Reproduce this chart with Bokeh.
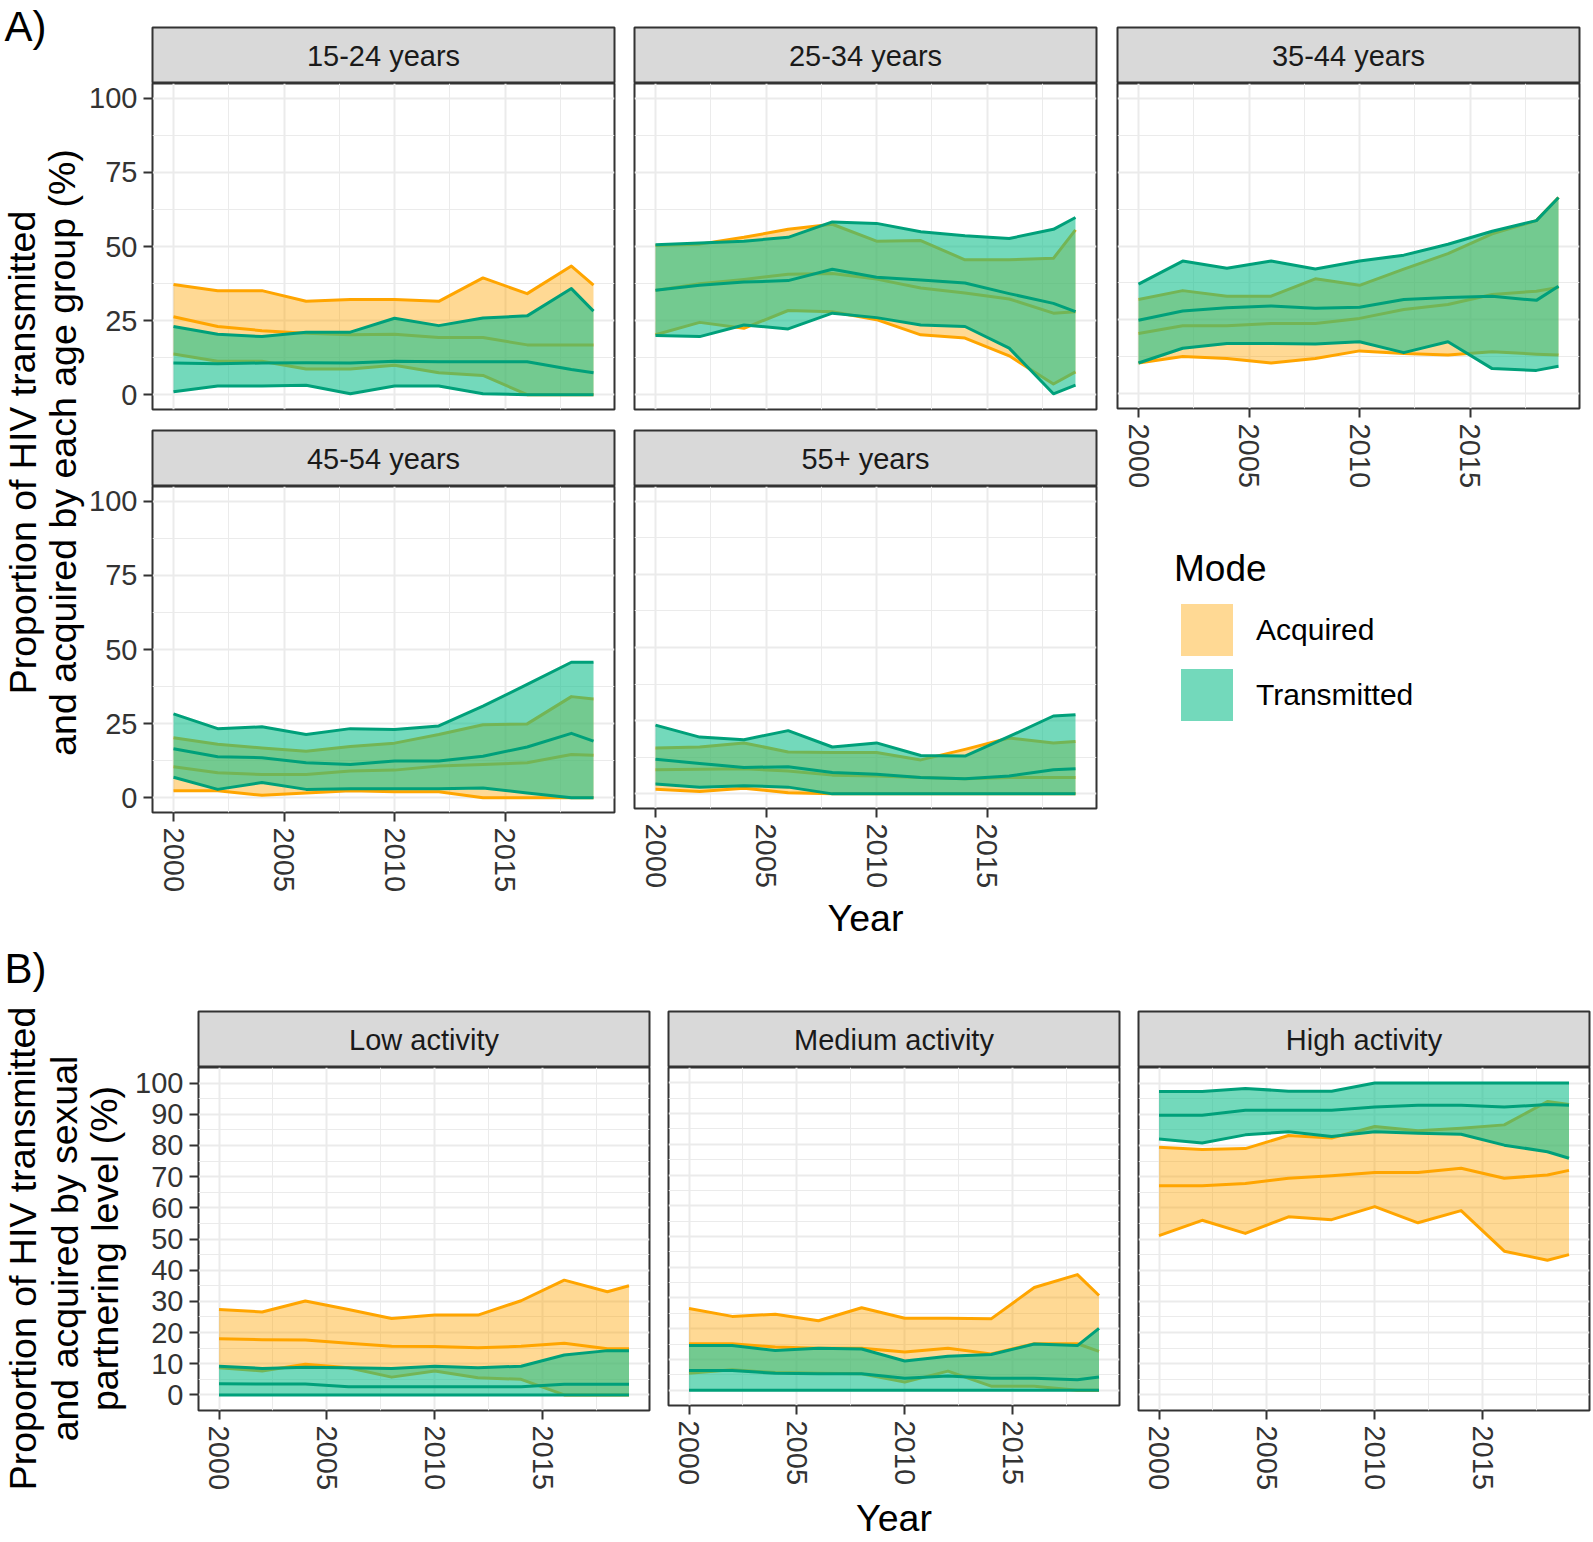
import math
from bokeh.plotting import figure
from bokeh.layouts import row, column
from bokeh.models import (Range1d, FixedTicker, Label, Legend, LegendItem,
                          ColumnDataSource, Grid)
from bokeh.core.properties import value
from bokeh.embed import file_html
from bokeh.resources import INLINE

# ---------------- data ----------------
YEARS = [2000, 2002, 2004, 2006, 2008, 2010, 2012, 2014, 2016, 2018, 2019]

# A) age groups
A1524_ACQ_HI = [37.2, 35.1, 35.1, 31.5, 32.1, 32.1, 31.5, 39.4, 34.1, 43.4, 37.0]
A1524_ACQ_MED = [26.3, 23.0, 21.6, 20.7, 20.2, 20.4, 19.3, 19.3, 16.8, 16.8, 16.8]
A1524_ACQ_LO = [13.7, 11.3, 11.3, 8.7, 8.7, 9.9, 7.4, 6.5, 0.0, 0.0, 0.0]
A1524_TR_HI = [23.0, 20.4, 19.6, 21.1, 21.1, 25.8, 23.3, 25.9, 26.6, 35.8, 28.2]
A1524_TR_MED = [10.7, 10.4, 10.7, 10.8, 10.7, 11.3, 11.1, 11.1, 11.1, 8.5, 7.4]
A1524_TR_LO = [1.0, 2.9, 2.9, 3.2, 0.3, 2.9, 2.9, 0.3, 0.0, 0.0, 0.0]

A2534_ACQ_HI = [50.3, 50.8, 53.1, 55.8, 57.5, 51.8, 52.0, 45.5, 45.5, 46.0, 55.6]
A2534_ACQ_MED = [35.2, 37.4, 38.9, 40.6, 40.9, 39.0, 36.0, 34.3, 32.3, 27.5, 28.0]
A2534_ACQ_LO = [20.2, 24.4, 22.4, 28.4, 28.0, 25.3, 20.2, 19.1, 13.1, 3.6, 7.7]
A2534_TR_HI = [50.6, 51.2, 51.8, 53.1, 58.3, 57.8, 55.0, 53.6, 52.7, 55.8, 59.8]
A2534_TR_MED = [35.2, 36.9, 38.0, 38.5, 42.3, 39.6, 38.7, 37.7, 34.1, 30.8, 28.0]
A2534_TR_LO = [20.0, 19.6, 23.5, 22.2, 27.5, 26.0, 23.5, 23.0, 15.7, 0.3, 3.2]

A3544_ACQ_HI = [31.9, 34.9, 33.0, 33.0, 38.9, 36.7, 42.2, 47.4, 54.1, 58.6, 66.4]
A3544_ACQ_MED = [20.4, 23.0, 23.0, 23.8, 23.8, 25.5, 28.5, 30.2, 33.6, 34.7, 36.0]
A3544_ACQ_LO = [10.4, 12.6, 11.9, 10.4, 11.9, 14.5, 13.6, 13.1, 14.2, 13.4, 13.1]
A3544_TR_HI = [37.1, 44.9, 42.5, 44.9, 42.2, 44.9, 46.9, 50.6, 55.0, 58.6, 66.4]
A3544_TR_MED = [24.9, 28.0, 29.1, 29.7, 28.9, 29.3, 31.9, 32.6, 33.0, 31.6, 36.4]
A3544_TR_LO = [10.4, 15.4, 17.0, 17.0, 16.8, 17.6, 13.9, 17.6, 8.5, 7.9, 9.3]

A4554_ACQ_HI = [20.2, 18.0, 16.8, 15.7, 17.3, 18.4, 21.3, 24.6, 24.9, 34.1, 33.3]
A4554_ACQ_MED = [10.4, 8.4, 7.8, 7.8, 9.0, 9.3, 10.7, 11.2, 11.8, 14.6, 14.3]
A4554_ACQ_LO = [2.3, 2.3, 0.8, 1.6, 2.3, 2.0, 2.0, 0.0, 0.0, 0.0, 0.0]
A4554_TR_HI = [28.3, 23.3, 23.9, 21.3, 23.3, 23.0, 24.2, 30.9, 38.2, 45.7, 45.7]
A4554_TR_MED = [16.5, 13.8, 13.5, 11.8, 11.2, 12.4, 12.4, 14.0, 17.1, 21.7, 19.1]
A4554_TR_LO = [6.9, 2.8, 5.1, 2.8, 3.0, 3.0, 3.0, 3.3, 1.6, 0.0, 0.0]

A55_ACQ_HI = [15.7, 16.0, 17.4, 14.3, 14.1, 14.1, 11.6, 15.2, 19.1, 17.4, 17.9]
A55_ACQ_MED = [8.2, 8.4, 8.6, 7.8, 6.4, 6.1, 5.6, 5.2, 5.6, 5.6, 5.6]
A55_ACQ_LO = [1.6, 0.8, 1.9, 0.4, 0.0, 0.0, 0.0, 0.0, 0.0, 0.0, 0.0]
A55_TR_HI = [23.5, 19.4, 18.5, 21.6, 16.0, 17.4, 13.1, 12.9, 19.6, 26.6, 27.0]
A55_TR_MED = [11.8, 10.4, 9.0, 9.3, 7.3, 6.7, 5.6, 5.2, 6.1, 8.2, 8.6]
A55_TR_LO = [3.4, 2.3, 2.8, 2.3, 0.0, 0.0, 0.0, 0.0, 0.0, 0.0, 0.0]

# B) sexual partnering level
BLOW_ACQ_HI = [27.4, 26.6, 30.1, 27.4, 24.5, 25.6, 25.6, 30.2, 36.8, 33.1, 35.0]
BLOW_ACQ_MED = [18.0, 17.7, 17.6, 16.6, 15.6, 15.5, 15.1, 15.6, 16.6, 14.8, 14.8]
BLOW_ACQ_LO = [8.7, 7.7, 9.8, 8.7, 5.7, 7.7, 5.5, 5.0, 0.0, 0.0, 0.0]
BLOW_TR_HI = [9.2, 8.5, 8.9, 8.7, 8.5, 9.2, 8.7, 9.2, 12.8, 14.2, 14.2]
BLOW_TR_MED = [3.6, 3.5, 3.5, 2.6, 2.6, 2.6, 2.6, 2.6, 3.4, 3.4, 3.4]
BLOW_TR_LO = [0.0, 0.0, 0.0, 0.0, 0.0, 0.0, 0.0, 0.0, 0.0, 0.0, 0.0]

BMED_ACQ_HI = [26.6, 24.0, 24.7, 22.6, 26.8, 23.4, 23.4, 23.2, 33.4, 37.6, 30.8]
BMED_ACQ_MED = [15.1, 15.1, 14.0, 13.6, 13.6, 12.4, 13.6, 11.8, 15.1, 15.1, 12.6]
BMED_ACQ_LO = [5.5, 6.6, 5.7, 5.5, 5.3, 2.6, 6.2, 1.3, 1.3, 0.0, 0.0]
BMED_TR_HI = [14.5, 14.5, 12.9, 13.6, 13.4, 9.5, 11.0, 11.6, 15.0, 14.5, 20.1]
BMED_TR_MED = [6.4, 6.4, 5.5, 5.3, 5.3, 3.9, 4.6, 3.9, 3.9, 3.4, 4.3]
BMED_TR_LO = [0.0, 0.0, 0.0, 0.0, 0.0, 0.0, 0.0, 0.0, 0.0, 0.0, 0.0]

BHIGH_ACQ_HI = [79.4, 78.7, 79.0, 83.2, 82.4, 86.1, 84.7, 85.5, 86.6, 94.1, 93.1]
BHIGH_ACQ_MED = [67.1, 67.1, 67.8, 69.5, 70.3, 71.3, 71.3, 72.7, 69.5, 70.5, 72.0]
BHIGH_ACQ_LO = [51.1, 56.0, 51.8, 57.1, 56.2, 60.4, 55.2, 59.1, 46.1, 43.2, 45.0]
BHIGH_TR_HI = [97.3, 97.3, 98.3, 97.4, 97.4, 100.0, 100.0, 100.0, 100.0, 100.0, 100.0]
BHIGH_TR_MED = [89.7, 89.7, 91.3, 91.3, 91.3, 92.3, 92.9, 92.9, 92.3, 93.1, 92.9]
BHIGH_TR_LO = [82.1, 80.8, 83.4, 84.4, 82.9, 84.4, 83.9, 83.6, 80.1, 78.0, 75.9]

A_STRIPS = ["15-24 years", "25-34 years", "35-44 years", "45-54 years", "55+ years"]
B_STRIPS = ["Low activity", "Medium activity", "High activity"]
MODES = ["Acquired", "Transmitted"]
X_TICKS = [2000, 2005, 2010, 2015]
X_MINOR = [2002.5, 2007.5, 2012.5, 2017.5]
A_Y_TICKS = [0, 25, 50, 75, 100]
A_Y_MINOR = [12.5, 37.5, 62.5, 87.5]
B_Y_TICKS = [0, 10, 20, 30, 40, 50, 60, 70, 80, 90, 100]
B_Y_MINOR = [5, 15, 25, 35, 45, 55, 65, 75, 85, 95]

# ---------------- style ----------------
FONT = "Liberation Sans"
GRID = "#EBEBEB"
DARK = "#333333"
ACQ = "#FFA500"
ACQ_ALPHA = 0.42
TR_FILL = "#16BF8E"
TR_ALPHA = 0.6
TR_LINE = "#00A07A"
LW = 3
TICK_FS = "29px"
STRIP_FS = "29px"
TITLE_FS = "37.5px"
TXT_SHIFT = 13   # empirical offset of the text glyph's baseline


def clear_grids(p):
    p.center = [r for r in p.center if not isinstance(r, Grid)]


def style_axis(ax, standoff):
    ax.major_label_text_font = FONT
    ax.major_label_text_font_size = TICK_FS
    ax.major_label_text_color = DARK
    ax.major_tick_line_color = DARK
    ax.major_tick_line_width = 2
    ax.major_tick_out = 9
    ax.major_tick_in = 0
    ax.minor_tick_line_color = None
    ax.axis_line_color = None
    ax.major_label_standoff = standoff


def make_panel(w, h, bl, br, bt, bb, data, yticks, yminor, show_x, show_y,
               xlabel=None, label_standoff=7):
    p = figure(width=w, height=h, title=None, toolbar_location=None,
               output_backend="svg",
               x_range=Range1d(1999.05, 2019.95), y_range=Range1d(-5, 105),
               x_axis_location="below" if show_x else None,
               y_axis_location="left" if show_y else None,
               min_border_left=bl, min_border_right=br,
               min_border_top=bt, min_border_bottom=bb)
    p.background_fill_color = "white"
    p.border_fill_color = "white"
    p.outline_line_color = DARK
    p.outline_line_width = 2
    clear_grids(p)
    xt = FixedTicker(ticks=X_TICKS, minor_ticks=X_MINOR)
    yt = FixedTicker(ticks=yticks, minor_ticks=yminor)
    for dim, t in ((0, xt), (1, yt)):
        g = Grid(dimension=dim, ticker=t, grid_line_color=GRID, grid_line_width=2,
                 minor_grid_line_color=GRID, minor_grid_line_width=1)
        p.add_layout(g, "center")
    if show_x:
        ax = p.xaxis[0]
        ax.ticker = xt
        style_axis(ax, 6)
        ax.major_label_orientation = "vertical"
        if xlabel:
            ax.axis_label = xlabel
            ax.axis_label_text_font = FONT
            ax.axis_label_text_font_size = TITLE_FS
            ax.axis_label_text_font_style = "normal"
            ax.axis_label_text_color = "black"
            ax.axis_label_standoff = label_standoff
    if show_y:
        ay = p.yaxis[0]
        ay.ticker = yt
        style_axis(ay, 6)

    alo, amed, ahi, tlo, tmed, thi = data
    src = ColumnDataSource(dict(year=YEARS, alo=alo, amed=amed, ahi=ahi,
                                tlo=tlo, tmed=tmed, thi=thi))
    p.varea(x="year", y1="alo", y2="ahi", source=src,
            fill_color=ACQ, fill_alpha=ACQ_ALPHA)
    for c in ("ahi", "amed", "alo"):
        p.line("year", c, source=src, line_color=ACQ, line_width=LW,
               line_join="round")
    p.varea(x="year", y1="tlo", y2="thi", source=src,
            fill_color=TR_FILL, fill_alpha=TR_ALPHA)
    for c in ("thi", "tmed", "tlo"):
        p.line("year", c, source=src, line_color=TR_LINE, line_width=LW,
               line_join="round")
    return p


def make_strip(w, h, bl, br, bt, text):
    s = figure(width=w, height=h, title=None, toolbar_location=None,
               output_backend="svg",
               x_range=Range1d(0, 1), y_range=Range1d(0, 1),
               x_axis_location=None, y_axis_location=None,
               min_border_left=bl, min_border_right=br,
               min_border_top=bt, min_border_bottom=0)
    clear_grids(s)
    s.background_fill_color = "#D9D9D9"
    s.border_fill_color = "white"
    s.outline_line_color = DARK
    s.outline_line_width = 2
    s.add_layout(Label(x=0.5, y=0.5, text=text, text_align="center",
                       text_baseline="middle", text_font=FONT,
                       text_font_size=STRIP_FS, text_color="#1A1A1A"))
    return s


def make_title(w, h, page_top, items):
    t = figure(width=w, height=h, title=None, toolbar_location=None,
               output_backend="svg",
               x_range=Range1d(0, w), y_range=Range1d(0, h),
               x_axis_location=None, y_axis_location=None,
               min_border_left=0, min_border_right=0,
               min_border_top=0, min_border_bottom=0)
    clear_grids(t)
    t.outline_line_color = None
    t.background_fill_color = "white"
    t.border_fill_color = "white"
    bottom = page_top + h
    for (x, y, txt, size, ang, align) in items:
        if ang == 0:
            xx, yy = x, bottom - (y - TXT_SHIFT)
        else:
            xx, yy = x - TXT_SHIFT, bottom - y
        t.text(x=[xx], y=[yy], text=[txt], angle=[ang],
               text_font=value(FONT), text_font_size=value(size),
               text_align=align, text_baseline="alphabetic",
               text_color="black")
    return t


def make_legend(w, h, bl, br):
    lg = figure(width=w, height=h, title=None, toolbar_location=None,
                output_backend="svg",
                x_range=Range1d(0, 1), y_range=Range1d(0, 1),
                x_axis_location=None, y_axis_location=None,
                min_border_left=bl, min_border_right=br,
                min_border_top=0, min_border_bottom=0)
    clear_grids(lg)
    lg.outline_line_color = None
    lg.background_fill_color = "white"
    lg.border_fill_color = "white"
    # renderers carrying the legend keys; their data lies outside this view
    ra = lg.varea(x=YEARS, y1=A1524_ACQ_LO, y2=A1524_ACQ_HI,
                  fill_color=ACQ, fill_alpha=ACQ_ALPHA)
    rt = lg.varea(x=YEARS, y1=A1524_TR_LO, y2=A1524_TR_HI,
                  fill_color=TR_FILL, fill_alpha=TR_ALPHA)
    leg = Legend(items=[LegendItem(label=MODES[0], renderers=[ra]),
                        LegendItem(label=MODES[1], renderers=[rt])],
                 title="Mode", location="top_left",
                 title_text_font=FONT, title_text_font_size="37px",
                 title_text_font_style="normal", title_text_color="black",
                 label_text_font=FONT, label_text_font_size="30px",
                 label_text_color="black",
                 glyph_width=65, glyph_height=65, label_height=52,
                 spacing=-7, label_standoff=17, title_standoff=7,
                 padding=0, margin=57, border_line_color=None,
                 background_fill_alpha=0)
    lg.add_layout(leg, "center")
    return lg


# ---------------- section A (page rows 0..942) ----------------
FR_A = 326
STRIP_H = 56
H_A = 942
W_TA = 85
BL_A1 = 67
W_A1 = BL_A1 + 462 + 3
W_A2 = 17 + 462 + 3
W_A3 = 18 + 462 + 6
BB_A = H_A - (27 + STRIP_H) - (FR_A + 19) - (2 + STRIP_H) - FR_A   # bottom border row 2
BB_A3 = 82

dA = {
    0: (A1524_ACQ_LO, A1524_ACQ_MED, A1524_ACQ_HI, A1524_TR_LO, A1524_TR_MED, A1524_TR_HI),
    1: (A2534_ACQ_LO, A2534_ACQ_MED, A2534_ACQ_HI, A2534_TR_LO, A2534_TR_MED, A2534_TR_HI),
    2: (A3544_ACQ_LO, A3544_ACQ_MED, A3544_ACQ_HI, A3544_TR_LO, A3544_TR_MED, A3544_TR_HI),
    3: (A4554_ACQ_LO, A4554_ACQ_MED, A4554_ACQ_HI, A4554_TR_LO, A4554_TR_MED, A4554_TR_HI),
    4: (A55_ACQ_LO, A55_ACQ_MED, A55_ACQ_HI, A55_TR_LO, A55_TR_MED, A55_TR_HI),
}

titleA = make_title(W_TA, H_A, 0, [
    (4, 39, "A)", "42px", 0, "left"),
    (35, 452, "Proportion of HIV transmitted", TITLE_FS, math.pi / 2, "center"),
    (75, 452, "and acquired by each age group (%)", TITLE_FS, math.pi / 2, "center"),
])

colA1 = column(
    make_strip(W_A1, 27 + STRIP_H, BL_A1, 3, 27, A_STRIPS[0]),
    make_panel(W_A1, FR_A + 19, BL_A1, 3, 0, 19, dA[0], A_Y_TICKS, A_Y_MINOR, False, True),
    make_strip(W_A1, 2 + STRIP_H, BL_A1, 3, 2, A_STRIPS[3]),
    make_panel(W_A1, FR_A + BB_A, BL_A1, 3, 0, BB_A, dA[3], A_Y_TICKS, A_Y_MINOR, True, True),
)
colA2 = column(
    make_strip(W_A2, 27 + STRIP_H, 17, 3, 27, A_STRIPS[1]),
    make_panel(W_A2, FR_A + 19, 17, 3, 0, 19, dA[1], A_Y_TICKS, A_Y_MINOR, False, False),
    make_strip(W_A2, 2 + STRIP_H, 17, 3, 2, A_STRIPS[4]),
    make_panel(W_A2, FR_A + BB_A, 17, 3, 0, BB_A, dA[4], A_Y_TICKS, A_Y_MINOR, True, False,
               xlabel="Year", label_standoff=6),
)
H_LEG = H_A - (27 + STRIP_H) - (FR_A + BB_A3)
colA3 = column(
    make_strip(W_A3, 27 + STRIP_H, 18, 6, 27, A_STRIPS[2]),
    make_panel(W_A3, FR_A + BB_A3, 18, 6, 0, BB_A3, dA[2], A_Y_TICKS, A_Y_MINOR, True, False),
    make_legend(W_A3, H_LEG, 18, 6),
)
rowA = row(titleA, colA1, colA2, colA3)

# ---------------- section B (page rows 942..1542) ----------------
H_B = 600
FR_B = 343
TOP_B = 69
BB_B = H_B - (TOP_B + STRIP_H) - FR_B
W_TB = 128
W_B1 = 70 + 451 + 3
W_B2 = 16 + 451 + 3
W_B3 = 16 + 451 + 2

dB = [
    (BLOW_ACQ_LO, BLOW_ACQ_MED, BLOW_ACQ_HI, BLOW_TR_LO, BLOW_TR_MED, BLOW_TR_HI),
    (BMED_ACQ_LO, BMED_ACQ_MED, BMED_ACQ_HI, BMED_TR_LO, BMED_TR_MED, BMED_TR_HI),
    (BHIGH_ACQ_LO, BHIGH_ACQ_MED, BHIGH_ACQ_HI, BHIGH_TR_LO, BHIGH_TR_MED, BHIGH_TR_HI),
]

titleB = make_title(W_TB, H_B, H_A, [
    (4, 981, "B)", "42px", 0, "left"),
    (35, 1248, "Proportion of HIV transmitted", TITLE_FS, math.pi / 2, "center"),
    (77, 1248, "and acquired by sexual", TITLE_FS, math.pi / 2, "center"),
    (117, 1248, "partnering level (%)", TITLE_FS, math.pi / 2, "center"),
])

colB1 = column(
    make_strip(W_B1, TOP_B + STRIP_H, 70, 3, TOP_B, B_STRIPS[0]),
    make_panel(W_B1, FR_B + BB_B, 70, 3, 0, BB_B, dB[0], B_Y_TICKS, B_Y_MINOR, True, True),
)
colB2 = column(
    make_strip(W_B2, TOP_B + STRIP_H, 16, 3, TOP_B, B_STRIPS[1]),
    make_panel(W_B2, FR_B + BB_B, 16, 3, 0, BB_B, dB[1], B_Y_TICKS, B_Y_MINOR, True, False,
               xlabel="Year", label_standoff=9),
)
colB3 = column(
    make_strip(W_B3, TOP_B + STRIP_H, 16, 2, TOP_B, B_STRIPS[2]),
    make_panel(W_B3, FR_B + BB_B, 16, 2, 0, BB_B, dB[2], B_Y_TICKS, B_Y_MINOR, True, False),
)
rowB = row(titleB, colB1, colB2, colB3)

layout = column(rowA, rowB)

with open("out.html", "w") as f:
    f.write(file_html(layout, INLINE))
